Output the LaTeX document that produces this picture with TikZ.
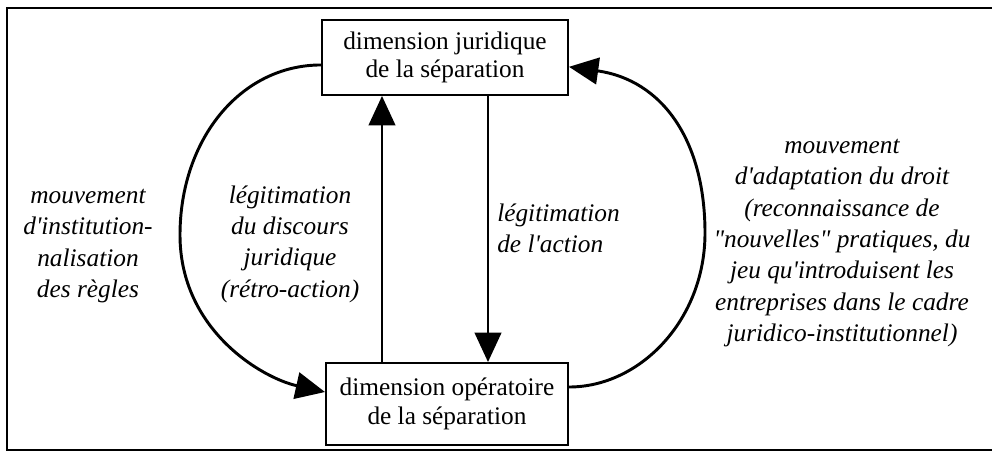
\documentclass[tikz,border=0pt]{standalone}
\usepackage{fontspec}
\setmainfont{Liberation Serif}[Ligatures=TeXOff]
\usetikzlibrary{arrows.meta}
\begin{document}
\begin{tikzpicture}[x=0.75pt,y=-0.75pt,
  dimbox/.style={draw,line width=1.5pt,align=center,inner sep=0pt,
    font=\fontsize{19}{21.5}\selectfont},
  note/.style={align=center,inner sep=0pt,
    font=\fontsize{19}{23.5}\selectfont\itshape},
  bigtip/.style={-{Triangle[length=22pt,width=20pt]}},
  arc/.style={bigtip,line width=2.2pt},
  shaft/.style={bigtip,line width=1.5pt}]
\useasboundingbox (0,0) rectangle (992,454);
% open frame: left, top and bottom rules
\draw[line width=1.8pt] (992,8) -- (7,8) -- (7,450) -- (992,450);

% the two dimensions
\node[dimbox,minimum width=184.5pt,minimum height=56.25pt] (jur) at (445,57.5)
  {dimension juridique\\de la séparation};
\node[dimbox,minimum width=181.5pt,minimum height=61.5pt] (ope) at (447,404)
  {dimension opératoire\\de la séparation};

% vertical links
\coordinate (upx) at (382,0);
\coordinate (downx) at (488,0);
\draw[shaft] (ope.north -| upx) -- (jur.south -| upx);
\draw[shaft] (jur.south -| downx) -- (ope.north -| downx);

% outer loops
\draw[arc] ([yshift=-5.6pt]jur.west) .. controls (240,65) and (180,140) .. (180,235)
  .. controls (180,330) and (262,378) .. ([yshift=9pt]ope.west);
\draw[arc] ([yshift=12.75pt]ope.east) .. controls (640,387) and (705,320) .. (705,233)
  .. controls (705,140) and (662,80) .. ([yshift=-7pt]jur.east);

% labels
\node[note] (lbl1) at (88,246)
  {mouvement\\d'institution-\\nalisation\\des règles};
\node[note] (lbl2) at (290,244)
  {légitimation\\du discours\\juridique\\(rétro-action)};
\node[note,align=left,anchor=west] (lbl3) at (497,228)
  {légitimation\\de l'action};
\node[note] (lbl4) at (842,243)
  {mouvement\\d'adaptation du droit\\(reconnaissance de\\"nouvelles" pratiques, du\\jeu qu'introduisent les\\entreprises dans le cadre\\juridico-institutionnel)};
\end{tikzpicture}
\end{document}
